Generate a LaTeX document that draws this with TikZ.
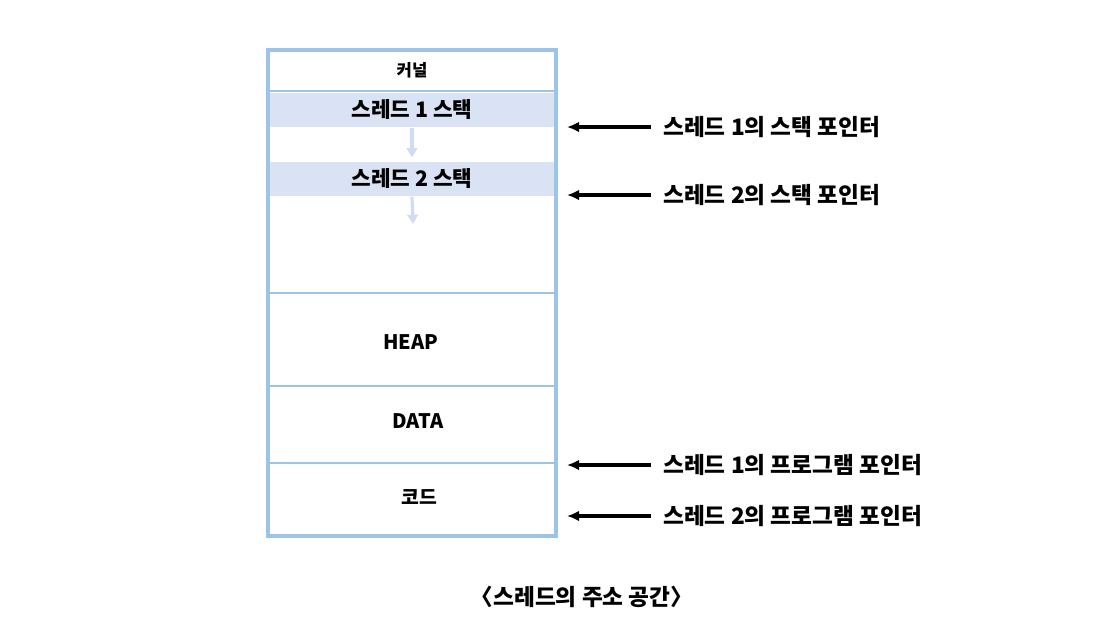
\documentclass[tikz,border=0pt]{standalone}
\usepackage{fontspec}
\setmainfont{Noto Sans CJK KR}
\usetikzlibrary{arrows.meta,positioning}
\definecolor{memline}{RGB}{157,195,230}
\definecolor{stackfill}{RGB}{218,227,243}
\definecolor{growcol}{RGB}{208,220,242}
\tikzset{
  seglabel/.style={font=\bfseries\fontsize{12.5}{14}\selectfont},
  stackband/.style={fill=stackfill,minimum width=213pt,minimum height=26pt,inner sep=0pt,font=\bfseries\fontsize{16}{18}\selectfont},
  pointer/.style={anchor=west,inner sep=0pt,font=\bfseries\fontsize{17}{20}\selectfont},
  ptrarrow/.style={-{Latex[length=9pt,width=8pt]},line width=2.4pt,shorten <=9pt},
  growarrow/.style={-{Triangle[length=7pt,width=8pt]},growcol,line width=2.4pt}
}
\begin{document}
\begin{tikzpicture}[x=0.75pt,y=-0.75pt]
\useasboundingbox (0,0) rectangle (1116,622);
% address space
\node[seglabel] (kernel) at (412,70) {커널};
\node[stackband] (stack1) at (412,110) {스레드 1 스택};
\node[stackband] (stack2) at (412,179) {스레드 2 스택};
\coordinate (stackend) at (413,224);
\draw[growarrow,shorten >=3pt] (stack1.south) -- (stack2.north);
\draw[growarrow] (stack2.south) -- (stackend);
\node[seglabel,font=\bfseries\fontsize{15}{17}\selectfont] (heap) at (411,342) {HEAP};
\node[seglabel,font=\bfseries\fontsize{15}{17}\selectfont] (data) at (418,421) {DATA};
\node[seglabel,font=\bfseries\fontsize{14.5}{17}\selectfont] (code) at (419,497) {코드};
\draw[memline,line width=1.5pt] (269,91) -- (555,91);
\draw[memline,line width=1.5pt] (269,293) -- (555,293);
\draw[memline,line width=1.5pt] (269,386) -- (555,386);
\draw[memline,line width=1.5pt] (269,463) -- (555,463);
\draw[memline,line width=3pt] (268,50) rectangle (556,536);
% pointers
\node[pointer] (sp1) at (663,127) {스레드 1의 스택 포인터};
\node[pointer] (sp2) at (663,195) {스레드 2의 스택 포인터};
\node[pointer] (pc1) at (663,465) {스레드 1의 프로그램 포인터};
\node[pointer] (pc2) at (663,516) {스레드 2의 프로그램 포인터};
\coordinate (sp1tip) at (567,127);
\coordinate (sp2tip) at (567,195);
\coordinate (pc1tip) at (567,465);
\coordinate (pc2tip) at (567,516);
\draw[ptrarrow] (sp1.west) -- (sp1tip);
\draw[ptrarrow] (sp2.west) -- (sp2tip);
\draw[ptrarrow] (pc1.west) -- (pc1tip);
\draw[ptrarrow] (pc2.west) -- (pc2tip);
\node[font=\bfseries\fontsize{17}{20}\selectfont] (caption) at (582,597) {〈스레드의 주소 공간〉};
\end{tikzpicture}
\end{document}
